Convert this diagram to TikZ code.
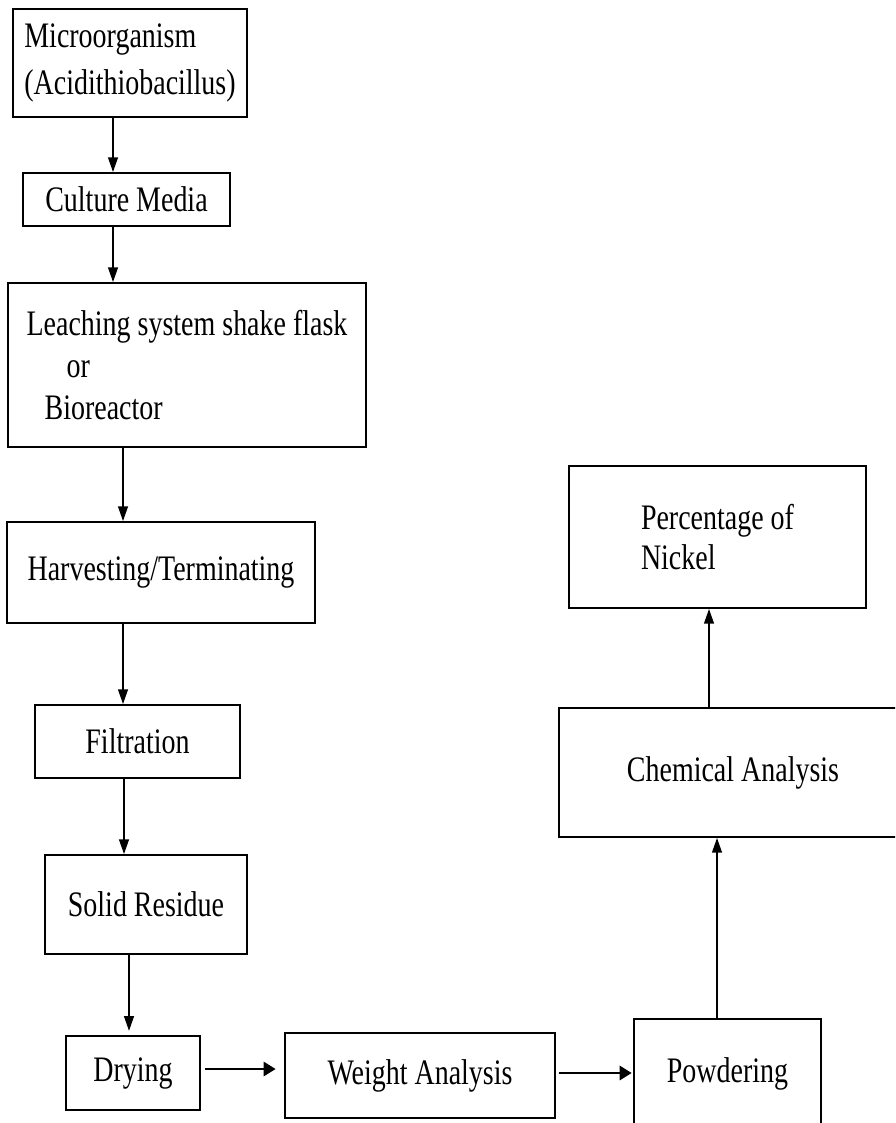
\documentclass[tikz,border=0pt]{standalone}
\usepackage{fontspec}
\setmainfont{Liberation Serif}[FakeStretch=0.78]
\usetikzlibrary{arrows.meta}
\newcommand{\pxl}{0.025cm}
\tikzset{box/.style={draw,line width=1.3pt,align=left,inner sep=0pt},
  arr/.style={-{Triangle[length=10.5pt,width=7pt]},line width=1.2pt},
  harr/.style={-{Triangle[length=8.5pt,width=10pt]},line width=1.9pt}}

\begin{document}
\begin{tikzpicture}[x=\pxl,y=-\pxl,font=\fontsize{25.5}{30}\selectfont]
\useasboundingbox (0,0) rectangle (895,1123);\clip (0,0) rectangle (895,1123);
\node[box,minimum width=234*\pxl,minimum height=108*\pxl] (micro) at (130,63){Microorganism\\[4pt](Acidithiobacillus)};
\node[box,minimum width=207*\pxl,minimum height=53*\pxl] (culture) at (126.5,199.5){Culture Media};
\node[box,minimum width=358*\pxl,minimum height=164*\pxl] (leach) at (187,365){Leaching system shake flask\\\hspace*{1cm}or\\\hspace*{.45cm}Bioreactor};
\node[box,minimum width=308*\pxl,minimum height=101*\pxl] (harvest) at (161,572.5){Harvesting/Terminating};
\node[box,minimum width=205*\pxl,minimum height=73*\pxl] (filt) at (137.5,741.5){Filtration};
\node[box,minimum width=202*\pxl,minimum height=99*\pxl] (solid) at (146,904.5){Solid Residue};
\node[box,minimum width=134*\pxl,minimum height=74*\pxl] (dry) at (133,1073){Drying};
\node[box,minimum width=270*\pxl,minimum height=85*\pxl] (weight) at (420,1075.5){Weight Analysis};
\node[box,minimum width=187*\pxl,minimum height=110*\pxl] (powder) at (727.5,1074){Powdering};
\node[box,minimum width=348*\pxl,minimum height=129*\pxl] (chem) at (733,772.5){Chemical Analysis};
\node[box,minimum width=297*\pxl,minimum height=142*\pxl] (percent) at (717.5,537){Percentage of\\[-1pt]Nickel};
% vertical chain
\draw[arr] (micro.south -| 113,0) -- (culture.north -| 113,0);
\draw[arr] (culture.south -| 113,0) -- (leach.north -| 113,0);
\draw[arr] (leach.south -| 123,0) -- (harvest.north -| 123,0);
\draw[arr] (harvest.south -| 123,0) -- (filt.north -| 123,0);
\draw[arr] (filt.south -| 124,0) -- (solid.north -| 124,0);
\draw[arr,shorten >=3pt] (solid.south -| 129,0) -- (dry.north -| 129,0);
% bottom row and up
\draw[harr,shorten <=3pt,shorten >=6pt] (dry.east |- 0,1069) -- (weight.west |- 0,1069);
\draw[harr,shorten <=2pt,shorten >=1pt] (weight.east |- 0,1073) -- (powder.west |- 0,1073);
\draw[arr] (powder.north -| 717,0) -- (chem.south -| 717,0);
\draw[arr] (chem.north -| 709,0) -- (percent.south -| 709,0);
\end{tikzpicture}
\end{document}
